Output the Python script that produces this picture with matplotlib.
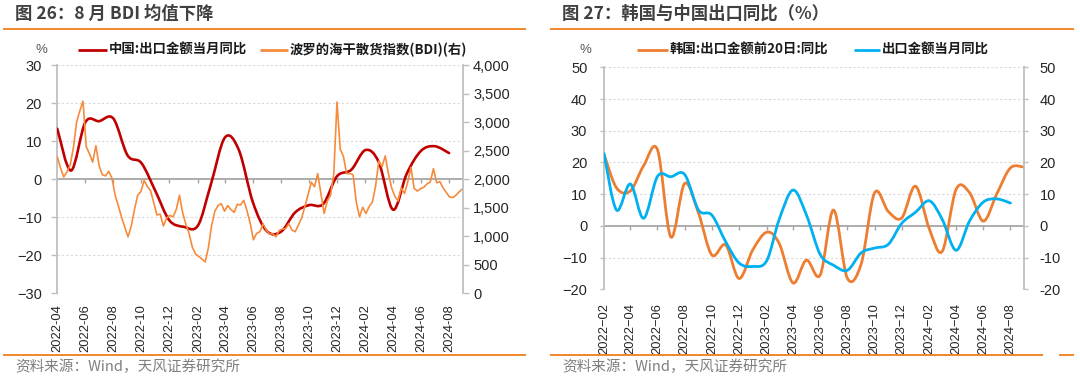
import numpy as np
import pandas as pd
import matplotlib
matplotlib.use('Agg')
import matplotlib.pyplot as plt
import matplotlib.dates as mdates
from matplotlib.path import Path
from matplotlib.patches import PathPatch
from matplotlib.lines import Line2D
from matplotlib.ticker import FuncFormatter

# ---------------- data: figure 26 ----------------
cn_months_left = pd.date_range('2022-04-01', '2024-08-01', freq='MS')
cn_export_yoy_left = [13.3, 2.3, 15.0, 15.3, 16.0, 6.3, 4.3, -3.2, -10.8, -12.5,
                      -12.2, -1.5, 11.0, 7.8, -6.1, -13.6, -13.8, -8.7, -6.8, -6.5,
                      0.8, 2.5, 7.7, 4.5, -8.0, 1.5, 7.5, 8.7, 6.9]
bdi_start = '2022-04-01'
bdi_values = [2390, 2200, 2040, 2130, 2250, 2550, 3000, 3200, 3370, 2570,
              2450, 2300, 2590, 2240, 2080, 2060, 2140, 2020, 1720, 1530,
              1335, 1160, 990, 1180, 1470, 1720, 1785, 1980, 1875, 1800,
              1590, 1375, 1390, 1180, 1320, 1368, 1340, 1470, 1720, 1410,
              1210, 1050, 810, 690, 645, 600, 550, 800, 1190, 1440,
              1540, 1573, 1440, 1540, 1470, 1420, 1560, 1550, 1630, 1450,
              1230, 940, 1050, 1080, 1220, 1110, 1040, 1046, 990, 1100,
              1130, 1134, 1220, 1110, 1080, 1200, 1320, 1520, 1730, 1950,
              1870, 2100, 1750, 1400, 1620, 1720, 2100, 3356, 2530, 2400,
              2100, 2100, 2080, 1600, 1340, 1510, 1400, 1520, 1600, 1880,
              2320, 2220, 2410, 2100, 1850, 1700, 1620, 1850, 1750, 1950,
              2210, 1840, 1795, 1835, 1860, 1920, 1950, 2187, 1940, 1960,
              1850, 1770, 1690, 1680, 1720, 1780, 1830]

# ---------------- data: figure 27 ----------------
kr_months = pd.date_range('2022-02-01', '2024-09-01', freq='MS')
kr_export_20d_yoy = [22.6, 12.0, 11.0, 19.0, 24.0, -3.5, 13.4, 4.0, -9.2, -6.0,
                     -16.6, -7.5, -2.0, -5.5, -18.0, -10.8, -15.5, 5.0, -16.5, -12.0,
                     10.4, 4.5, 2.5, 12.5, -1.0, -8.0, 11.5, 10.5, 1.5, 10.0,
                     18.3, 18.5]
cn_months_right = pd.date_range('2022-02-01', '2024-08-01', freq='MS')
cn_export_yoy_right = [22.8, 5.0, 13.2, 2.4, 15.6, 15.5, 16.2, 5.0, 3.4, -5.0,
                       -11.7, -12.8, -11.0, 2.0, 11.3, 3.5, -9.0, -12.4, -14.0, -8.5,
                       -7.0, -5.8, 0.8, 4.3, 7.9, 2.0, -7.7, 1.5, 7.5, 8.5,
                       7.2]

left_xticks = pd.date_range('2022-04-01', '2024-08-01', freq='2MS')
right_xticks = pd.date_range('2022-02-01', '2024-08-01', freq='2MS')

# ---------------- style ----------------
CJK = ['Noto Sans CJK SC', 'DejaVu Sans']
NUM = ['Liberation Sans', 'DejaVu Sans']
plt.rcParams['font.family'] = CJK

RED = '#C00000'
BDI_ORANGE = '#F68B3C'
KR_ORANGE = '#ED7D31'
BLUE = '#00B0F0'
RULE = '#F0862A'
GRID = '#D9D9D9'
SPINE = '#BFBFBF'
ZERO = '#A6A6A6'
TXT = '#262626'

W, H = 1080, 379
fig = plt.figure(figsize=(W / 100, H / 100), dpi=100)


def fx(x):
    return x / W


def fy(y):
    return 1 - y / H


def rect(x0, y0, x1, y1):
    return [fx(x0), fy(y1), (x1 - x0) / W, (y1 - y0) / H]


def smooth_path(x, y):
    pts = np.column_stack([np.asarray(x, float), np.asarray(y, float)])
    n = len(pts)
    verts = [pts[0]]
    codes = [Path.MOVETO]
    for i in range(n - 1):
        pp = pts[i - 1] if i > 0 else pts[i]
        p0, p1 = pts[i], pts[i + 1]
        pn = pts[i + 2] if i + 2 < n else pts[i + 1]
        verts += [p0 + (p1 - pp) / 6, p1 - (pn - p0) / 6, p1]
        codes += [Path.CURVE4] * 3
    return Path(verts, codes)


def minus_fmt(ch):
    return FuncFormatter(lambda v, p: f'{v:.0f}'.replace('-', ch))


def fig_line(x0, x1, y, color, lw):
    fig.add_artist(Line2D([fx(x0), fx(x1)], [fy(y), fy(y)], color=color, lw=lw,
                          transform=fig.transFigure, solid_capstyle='butt'))


# ================= figure 26 =================
ax1 = fig.add_axes(rect(57.3, 65.3, 463.3, 293.3))
ax1.set_xlim(mdates.date2num(pd.Timestamp('2022-04-01')), mdates.date2num(pd.Timestamp('2024-09-01')))
ax1.set_ylim(-30, 30)
ax1.set_yticks(range(-30, 31, 10))
ax1.yaxis.set_major_formatter(minus_fmt('\u2212'))
for v in range(-30, 31, 10):
    if v != 0:
        ax1.axhline(v, color=GRID, lw=0.8, ls=(0, (2, 2)), zorder=0.5)
ax1.axhline(0, color=ZERO, lw=1.3, zorder=1)
lx = mdates.date2num(left_xticks)
ax1.vlines(lx[1:], -1.1, 0, color=ZERO, lw=1.0, zorder=1)
ax1.set_xticks(lx)
ax1.set_xticklabels([d.strftime('%Y-%m') for d in left_xticks], rotation=90)
ax1.tick_params(axis='x', length=0, pad=8, labelsize=9.3, labelcolor=TXT, labelfontfamily=NUM)
ax1.tick_params(axis='y', direction='out', length=4, width=1, color=SPINE, pad=7,
                labelsize=10.5, labelcolor=TXT, labelfontfamily=NUM)
for s in ['top', 'bottom', 'right']:
    ax1.spines[s].set_visible(False)
ax1.spines['left'].set_color(SPINE)
ax1.spines['left'].set_linewidth(1.3)

ax1.add_patch(PathPatch(smooth_path(mdates.date2num(cn_months_left), cn_export_yoy_left),
                        fill=False, ec=RED, lw=1.9, capstyle='round', joinstyle='round', zorder=3))

ax2 = ax1.twinx()
ax2.set_ylim(0, 4000)
ax2.set_yticks(range(0, 4001, 500))
ax2.yaxis.set_major_formatter(FuncFormatter(lambda v, p: f'{v:,.0f}'))
ax2.tick_params(axis='y', direction='out', length=4, width=1, color=SPINE, pad=3,
                labelsize=10.5, labelcolor=TXT, labelfontfamily=NUM)
for s in ['top', 'bottom', 'left']:
    ax2.spines[s].set_visible(False)
ax2.spines['right'].set_color(SPINE)
ax2.spines['right'].set_linewidth(1.3)
bdi_dates = pd.date_range(bdi_start, periods=len(bdi_values), freq='7D')
ax2.plot(mdates.date2num(bdi_dates), bdi_values, color=BDI_ORANGE, lw=1.2,
         solid_joinstyle='round', zorder=2)

# title, rules, legend, source
fig.text(fx(15), fy(14), '图 26：8 月 BDI 均值下降', fontsize=12.5, fontweight='bold',
         color='#404040', va='center', ha='left')
fig_line(3, 526, 28.5, RULE, 1.4)
fig_line(3, 526, 354.5, RULE, 1.4)
fig.text(fx(41), fy(50), '%', fontsize=9.5, color='#595959', va='center', ha='center', family=NUM)
fig_line(78, 107, 50, RED, 2.0)
fig.text(fx(109), fy(50), '中国:出口金额当月同比', fontsize=9.6, fontweight='bold',
         color='#1A1A1A', va='center', ha='left')
fig_line(260, 288, 50, BDI_ORANGE, 2.0)
fig.text(fx(290), fy(50), '波罗的海干散货指数(BDI)(右)', fontsize=9.6, fontweight='bold',
         color='#1A1A1A', va='center', ha='left')
fig.text(fx(15), fy(367), '资料来源：Wind，天风证券研究所', fontsize=10.5, color='#7F7F7F',
         va='center', ha='left')

# ================= figure 27 =================
ax3 = fig.add_axes(rect(604, 67.3, 1024.3, 289.3))
ax3.set_xlim(mdates.date2num(pd.Timestamp('2022-02-01')), mdates.date2num(pd.Timestamp('2024-09-01')))
ax3.set_ylim(-20, 50)
ax3.set_yticks(range(-20, 51, 10))
ax3.yaxis.set_major_formatter(minus_fmt('\u2212'))
for v in range(-20, 51, 10):
    if v != 0:
        ax3.axhline(v, color=GRID, lw=0.8, ls=(0, (2, 2)), zorder=0.5)
ax3.axhline(0, color=ZERO, lw=1.3, zorder=1)
rx = mdates.date2num(right_xticks)
ax3.vlines(rx[1:], -1.3, 0, color=ZERO, lw=1.0, zorder=1)
ax3.set_xticks(rx)
ax3.set_xticklabels([d.strftime('%Y\u2212%m') for d in right_xticks], rotation=90)
ax3.tick_params(axis='x', length=0, pad=10, labelsize=9.3, labelcolor=TXT, labelfontfamily=NUM)
ax3.tick_params(axis='y', direction='out', length=3, width=1, color=SPINE, pad=9,
                labelsize=10.5, labelcolor=TXT, labelfontfamily=NUM)
for s in ['top', 'bottom', 'right']:
    ax3.spines[s].set_visible(False)
ax3.spines['left'].set_color(SPINE)
ax3.spines['left'].set_linewidth(1.3)

ax3.add_patch(PathPatch(smooth_path(mdates.date2num(kr_months), kr_export_20d_yoy),
                        fill=False, ec=KR_ORANGE, lw=2.0, capstyle='round', joinstyle='round', zorder=3))
ax3.add_patch(PathPatch(smooth_path(mdates.date2num(cn_months_right), cn_export_yoy_right),
                        fill=False, ec=BLUE, lw=2.0, capstyle='round', joinstyle='round', zorder=4))

ax4 = ax3.twinx()
ax4.set_ylim(-20, 50)
ax4.set_yticks(range(-20, 51, 10))
ax4.yaxis.set_major_formatter(minus_fmt('-'))
ax4.tick_params(axis='y', direction='out', length=3, width=1, color=SPINE, pad=8,
                labelsize=10.5, labelcolor=TXT, labelfontfamily=NUM)
for s in ['top', 'bottom', 'left']:
    ax4.spines[s].set_visible(False)
ax4.spines['right'].set_color(SPINE)
ax4.spines['right'].set_linewidth(1.3)

fig.text(fx(562), fy(14), '图 27：韩国与中国出口同比（%）', fontsize=12.5, fontweight='bold',
         color='#404040', va='center', ha='left')
fig_line(550, 1074, 28.5, RULE, 1.4)
fig_line(550, 1043, 354.5, RULE, 1.4)
fig_line(1059, 1074, 354.5, RULE, 1.4)
fig.text(fx(585), fy(50), '%', fontsize=9.5, color='#595959', va='center', ha='center', family=NUM)
fig_line(637, 668, 50, KR_ORANGE, 2.0)
fig.text(fx(670), fy(50), '韩国:出口金额前20日:同比', fontsize=9.6, fontweight='bold',
         color='#1A1A1A', va='center', ha='left')
fig_line(854, 880, 50, BLUE, 2.0)
fig.text(fx(882), fy(50), '出口金额当月同比', fontsize=9.6, fontweight='bold',
         color='#1A1A1A', va='center', ha='left')
fig.text(fx(562), fy(367), '资料来源：Wind，天风证券研究所', fontsize=10.5, color='#7F7F7F',
         va='center', ha='left')

fig.savefig('out.png', dpi=100)
